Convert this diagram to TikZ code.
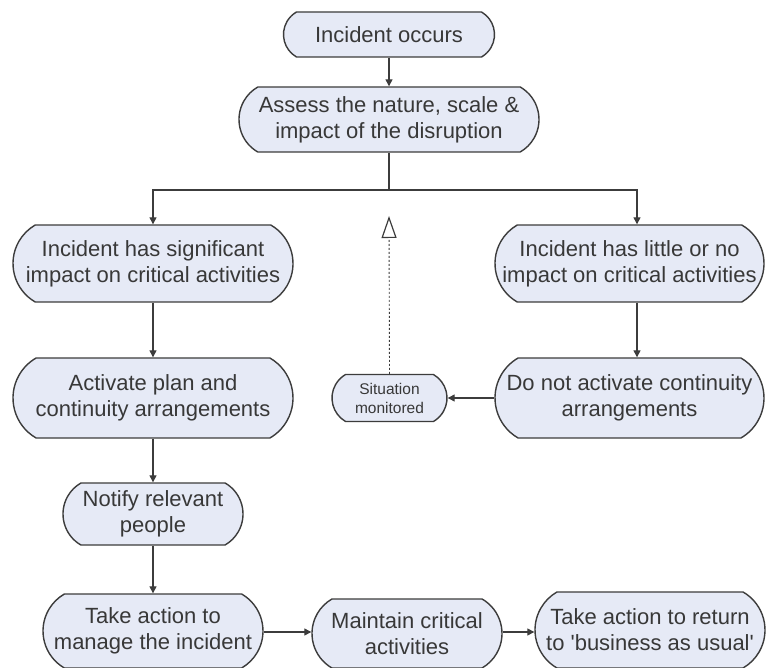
\documentclass[tikz,border=0pt]{standalone}
\usepackage{fontspec}
\setmainfont{Liberation Sans}
\usetikzlibrary{arrows.meta,calc,shapes.misc}
\definecolor{boxfill}{HTML}{E6EAF6}
\definecolor{boxline}{HTML}{3C3C3C}
\definecolor{txt}{HTML}{383838}
\begin{document}
\begin{tikzpicture}[x=1pt,y=-1pt,
  term/.style={rounded rectangle,rounded rectangle arc length=120,draw=boxline,line width=1.4pt,fill=boxfill,
    align=center,text=txt,font=\fontsize{22}{26}\selectfont,inner sep=0pt},
  small/.style={term,font=\fontsize{15.5}{19}\selectfont},
  conn/.style={draw=boxline,line width=1.3pt,-{Triangle[length=7pt,width=7pt]}},
  plain/.style={draw=boxline,line width=1.3pt}]
\useasboundingbox (0,0) rectangle (766,668);
\fill[white] (0,0) rectangle (766,668);

\node[term,minimum width=211pt,minimum height=45pt] (occ) at (389,34.5) {Incident occurs};
\node[term,minimum width=300pt,minimum height=65pt] (assess) at (389,119.5) {Assess the nature, scale \&\\impact of the disruption};
\node[term,minimum width=280pt,minimum height=77pt] (sig) at (153,263.5) {Incident has significant\\impact on critical activities};
\node[term,minimum width=269pt,minimum height=77pt] (little) at (629.5,263.5) {Incident has little or no\\impact on critical activities};
\node[term,minimum width=280pt,minimum height=80pt] (act) at (153,398) {Activate plan and\\continuity arrangements};
\node[term,minimum width=269pt,minimum height=80pt] (noact) at (629.5,398) {Do not activate continuity\\arrangements};
\node[small,minimum width=115pt,minimum height=47pt] (sit) at (389.5,398) {Situation\\monitored};
\node[term,minimum width=180pt,minimum height=62pt] (notify) at (153,514) {Notify relevant\\people};
\node[term,minimum width=220pt,minimum height=74pt] (manage) at (153,631) {Take action to\\manage the incident};
\node[term,minimum width=190pt,minimum height=69pt] (maintain) at (407,633.5) {Maintain critical\\activities};
\node[term,minimum width=230pt,minimum height=76pt] (ret) at (650,630) {Take action to return\\to \textquotesingle business as usual\textquotesingle};

\coordinate (split) at (389,190);
\coordinate (lt) at (153,190);
\coordinate (rt) at (637,190);
\coordinate (tri) at (389,216);
\coordinate (row) at (0,632);

\draw[conn] (occ.south) -- (assess.north);
\draw[plain] (assess.south) -- (split);
\draw[conn] (split) -- (lt) -- (sig.north);
\draw[conn] (split) -- (rt) -- (rt |- little.north);
\draw[boxline,line width=0.9pt,dash pattern=on 2pt off 2pt,
  -{Triangle[open,length=22pt,width=15pt,line width=1.2pt]}] (sit.north) -- (tri);
\draw[conn] (sig.south) -- (act.north);
\draw[conn] (rt |- little.south) -- (rt |- noact.north);
\draw[conn] (noact.west) -- (sit.east);
\draw[conn] (act.south) -- (notify.north);
\draw[conn] (notify.south) -- (manage.north);
\draw[conn] (manage.east |- row) -- (maintain.west |- row);
\draw[conn] (maintain.east |- row) -- (ret.west |- row);
\end{tikzpicture}
\end{document}
